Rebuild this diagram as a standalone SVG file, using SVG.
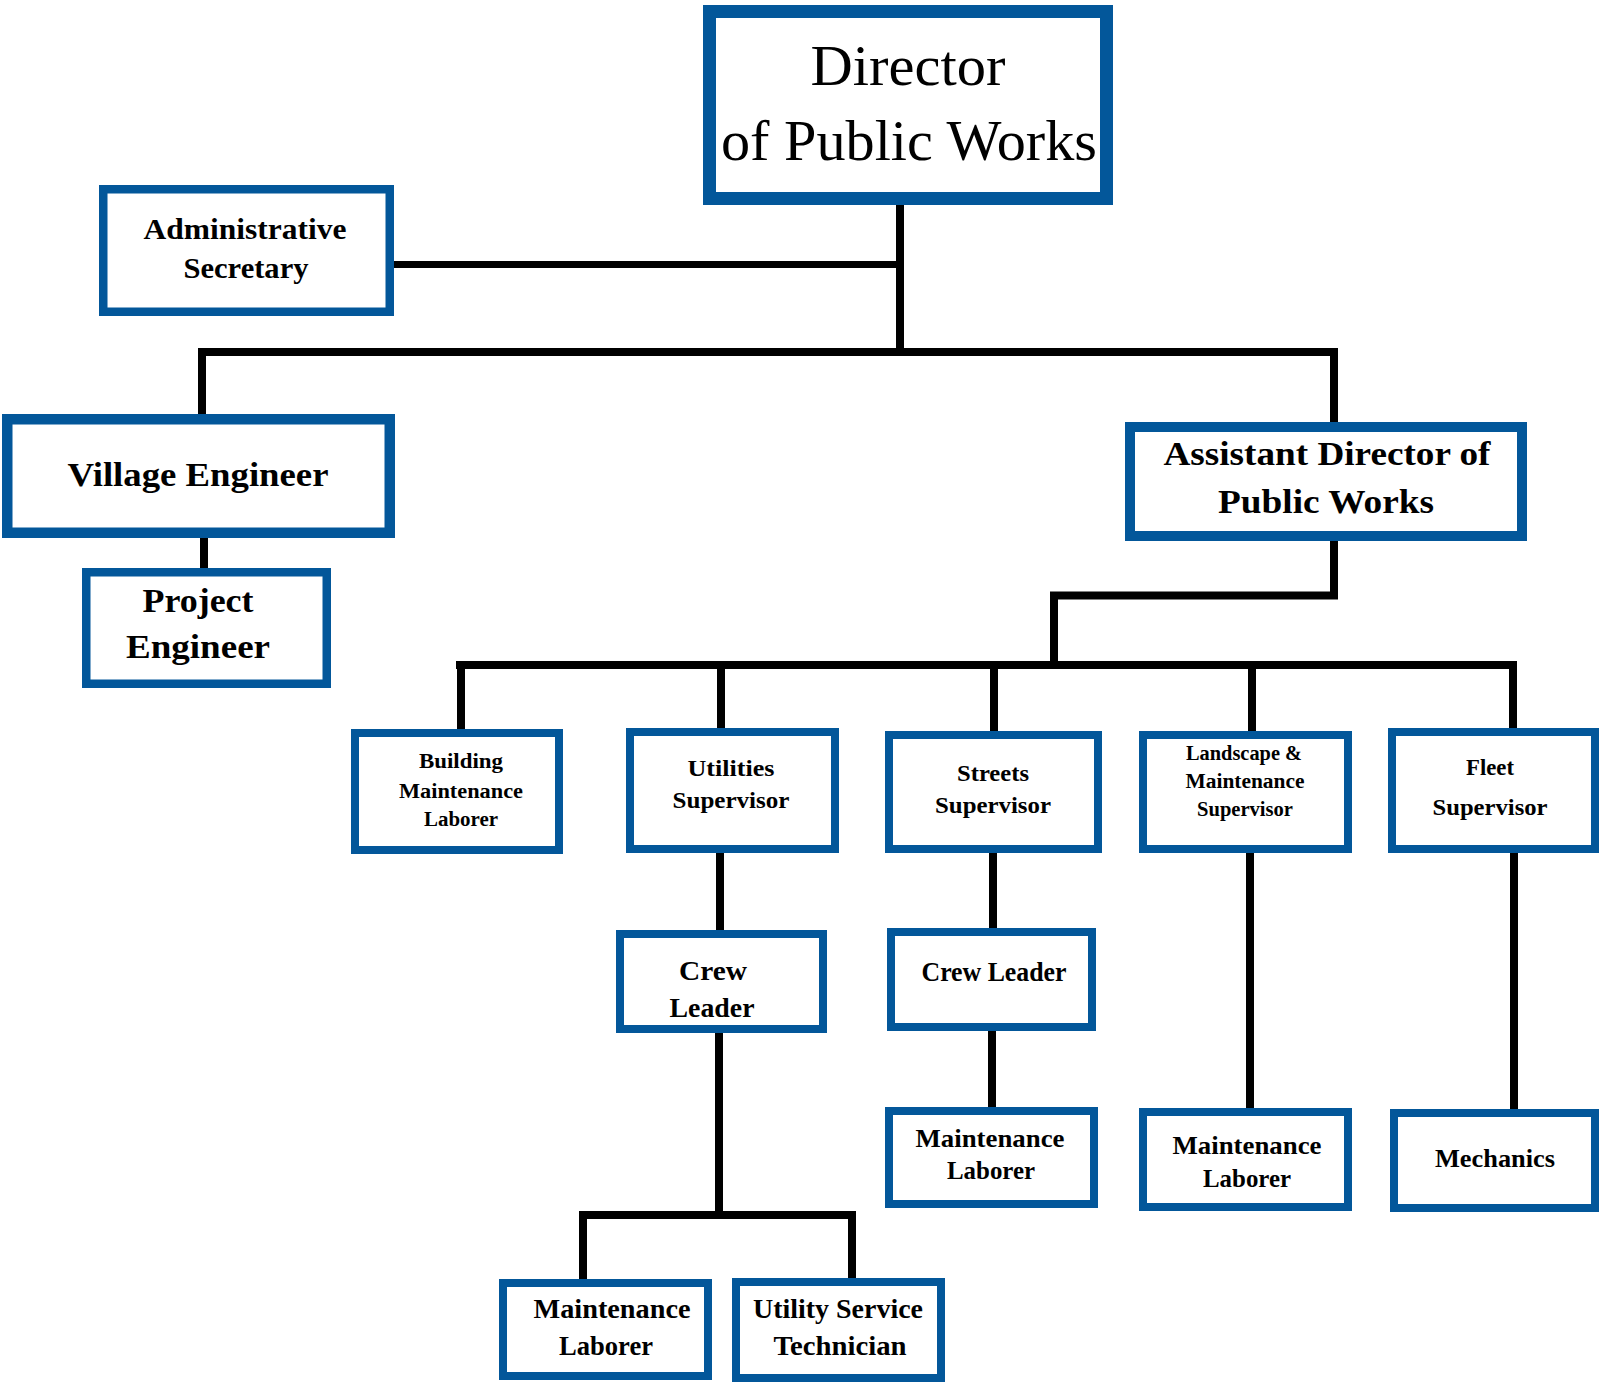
<svg xmlns="http://www.w3.org/2000/svg" width="1599" height="1384" viewBox="0 0 1599 1384">
<style>
.box{fill:#fff;stroke:#03579A;stroke-width:8}
.c{fill:none;stroke:#000;stroke-width:8;stroke-linecap:butt;stroke-linejoin:miter}
text{font-family:"Liberation Serif","Times New Roman",serif;font-weight:bold;fill:#000;text-anchor:middle}
.t{font-weight:normal}
</style>
<rect width="1599" height="1384" fill="#fff"/>
<g id="connectors">
<path class="c" d="M900 205V356"/>
<path class="c" style="stroke-width:7" d="M394 264.5H900"/>
<path class="c" d="M202 414V352H1334V422"/>
<path class="c" d="M204 538V568"/>
<path class="c" d="M1334 541V595.5H1054V665"/>
<path class="c" d="M456 665H1517"/>
<path class="c" d="M461 665V730"/>
<path class="c" d="M1513 665V728"/>
<path class="c" d="M721 665V728"/>
<path class="c" d="M994 665V731"/>
<path class="c" d="M1252 665V731"/>
<path class="c" d="M720 853V930"/>
<path class="c" d="M719 1033V1215"/>
<path class="c" d="M583 1279V1215H856"/>
<path class="c" d="M852 1215V1279"/>
<path class="c" d="M993 853V928"/>
<path class="c" d="M992 1031V1107"/>
<path class="c" d="M1250 853V1108"/>
<path class="c" d="M1514 853V1109"/>
</g>
<g id="director">
<rect class="box" style="stroke-width:13" x="709.5" y="11.5" width="397" height="187"/>
<text class="t" x="908" y="85" font-size="57" textLength="195" lengthAdjust="spacingAndGlyphs">Director</text>
<text class="t" x="909" y="160" font-size="57" textLength="376" lengthAdjust="spacingAndGlyphs">of Public Works</text>
</g>
<g id="admin">
<rect class="box" style="stroke-width:8.5" x="103.25" y="189.25" width="286.5" height="122.5"/>
<text x="245" y="239" font-size="29" textLength="203" lengthAdjust="spacingAndGlyphs">Administrative</text>
<text x="246" y="278" font-size="29" textLength="125" lengthAdjust="spacingAndGlyphs">Secretary</text>
</g>
<g id="village">
<rect class="box" style="stroke-width:10.5" x="7.25" y="419.25" width="382.5" height="113.5"/>
<text x="198" y="486" font-size="34" textLength="261" lengthAdjust="spacingAndGlyphs">Village Engineer</text>
</g>
<g id="project">
<rect class="box" style="stroke-width:8.5" x="86.25" y="572.25" width="240.5" height="111.5"/>
<text x="198" y="612" font-size="33" textLength="111" lengthAdjust="spacingAndGlyphs">Project</text>
<text x="198" y="658" font-size="33" textLength="144" lengthAdjust="spacingAndGlyphs">Engineer</text>
</g>
<g id="assistant">
<rect class="box" style="stroke-width:10" x="1130" y="427" width="392" height="109"/>
<text x="1327" y="465" font-size="33" textLength="327" lengthAdjust="spacingAndGlyphs">Assistant Director of</text>
<text x="1326" y="513" font-size="33" textLength="216" lengthAdjust="spacingAndGlyphs">Public Works</text>
</g>
<g id="building">
<rect class="box" x="355" y="733" width="204" height="117"/>
<text x="461" y="768" font-size="20" textLength="84" lengthAdjust="spacingAndGlyphs">Building</text>
<text x="461" y="798" font-size="20" textLength="124" lengthAdjust="spacingAndGlyphs">Maintenance</text>
<text x="461" y="826" font-size="20" textLength="74" lengthAdjust="spacingAndGlyphs">Laborer</text>
</g>
<g id="utilities">
<rect class="box" x="630" y="732" width="205" height="117"/>
<text x="731" y="776" font-size="24" textLength="87" lengthAdjust="spacingAndGlyphs">Utilities</text>
<text x="731" y="808" font-size="24" textLength="117" lengthAdjust="spacingAndGlyphs">Supervisor</text>
</g>
<g id="streets">
<rect class="box" x="889" y="735" width="209" height="114"/>
<text x="993" y="781" font-size="24" textLength="72" lengthAdjust="spacingAndGlyphs">Streets</text>
<text x="993" y="813" font-size="24" textLength="116" lengthAdjust="spacingAndGlyphs">Supervisor</text>
</g>
<g id="landscape">
<rect class="box" x="1143" y="735" width="205" height="114"/>
<text x="1244" y="760" font-size="20" textLength="116" lengthAdjust="spacingAndGlyphs">Landscape &amp;</text>
<text x="1245" y="788" font-size="20" textLength="119" lengthAdjust="spacingAndGlyphs">Maintenance</text>
<text x="1245" y="816" font-size="20" textLength="96" lengthAdjust="spacingAndGlyphs">Supervisor</text>
</g>
<g id="fleet">
<rect class="box" x="1392" y="732" width="203" height="117"/>
<text x="1490" y="775" font-size="23" textLength="48" lengthAdjust="spacingAndGlyphs">Fleet</text>
<text x="1490" y="815" font-size="23" textLength="115" lengthAdjust="spacingAndGlyphs">Supervisor</text>
</g>
<g id="crew-utilities">
<rect class="box" x="620" y="934" width="203" height="95"/>
<text x="713" y="980" font-size="27" textLength="68" lengthAdjust="spacingAndGlyphs">Crew</text>
<text x="712" y="1017" font-size="27" textLength="85" lengthAdjust="spacingAndGlyphs">Leader</text>
</g>
<g id="crew-streets">
<rect class="box" x="891" y="932" width="201" height="95"/>
<text x="994" y="981" font-size="27" textLength="145" lengthAdjust="spacingAndGlyphs">Crew Leader</text>
</g>
<g id="laborer-streets">
<rect class="box" x="889" y="1111" width="205" height="93"/>
<text x="990" y="1147" font-size="26" textLength="149" lengthAdjust="spacingAndGlyphs">Maintenance</text>
<text x="991" y="1179" font-size="26" textLength="88" lengthAdjust="spacingAndGlyphs">Laborer</text>
</g>
<g id="laborer-landscape">
<rect class="box" x="1143" y="1112" width="205" height="95"/>
<text x="1247" y="1154" font-size="26" textLength="149" lengthAdjust="spacingAndGlyphs">Maintenance</text>
<text x="1247" y="1187" font-size="26" textLength="88" lengthAdjust="spacingAndGlyphs">Laborer</text>
</g>
<g id="mechanics">
<rect class="box" x="1394" y="1113" width="201" height="95"/>
<text x="1495" y="1167" font-size="26" textLength="120" lengthAdjust="spacingAndGlyphs">Mechanics</text>
</g>
<g id="laborer-utilities">
<rect class="box" x="503" y="1283" width="205" height="93"/>
<text x="612" y="1318" font-size="27" textLength="157" lengthAdjust="spacingAndGlyphs">Maintenance</text>
<text x="606" y="1355" font-size="27" textLength="94" lengthAdjust="spacingAndGlyphs">Laborer</text>
</g>
<g id="technician">
<rect class="box" x="736" y="1282" width="205" height="96"/>
<text x="838" y="1318" font-size="27" textLength="170" lengthAdjust="spacingAndGlyphs">Utility Service</text>
<text x="840" y="1355" font-size="27" textLength="133" lengthAdjust="spacingAndGlyphs">Technician</text>
</g>
</svg>
